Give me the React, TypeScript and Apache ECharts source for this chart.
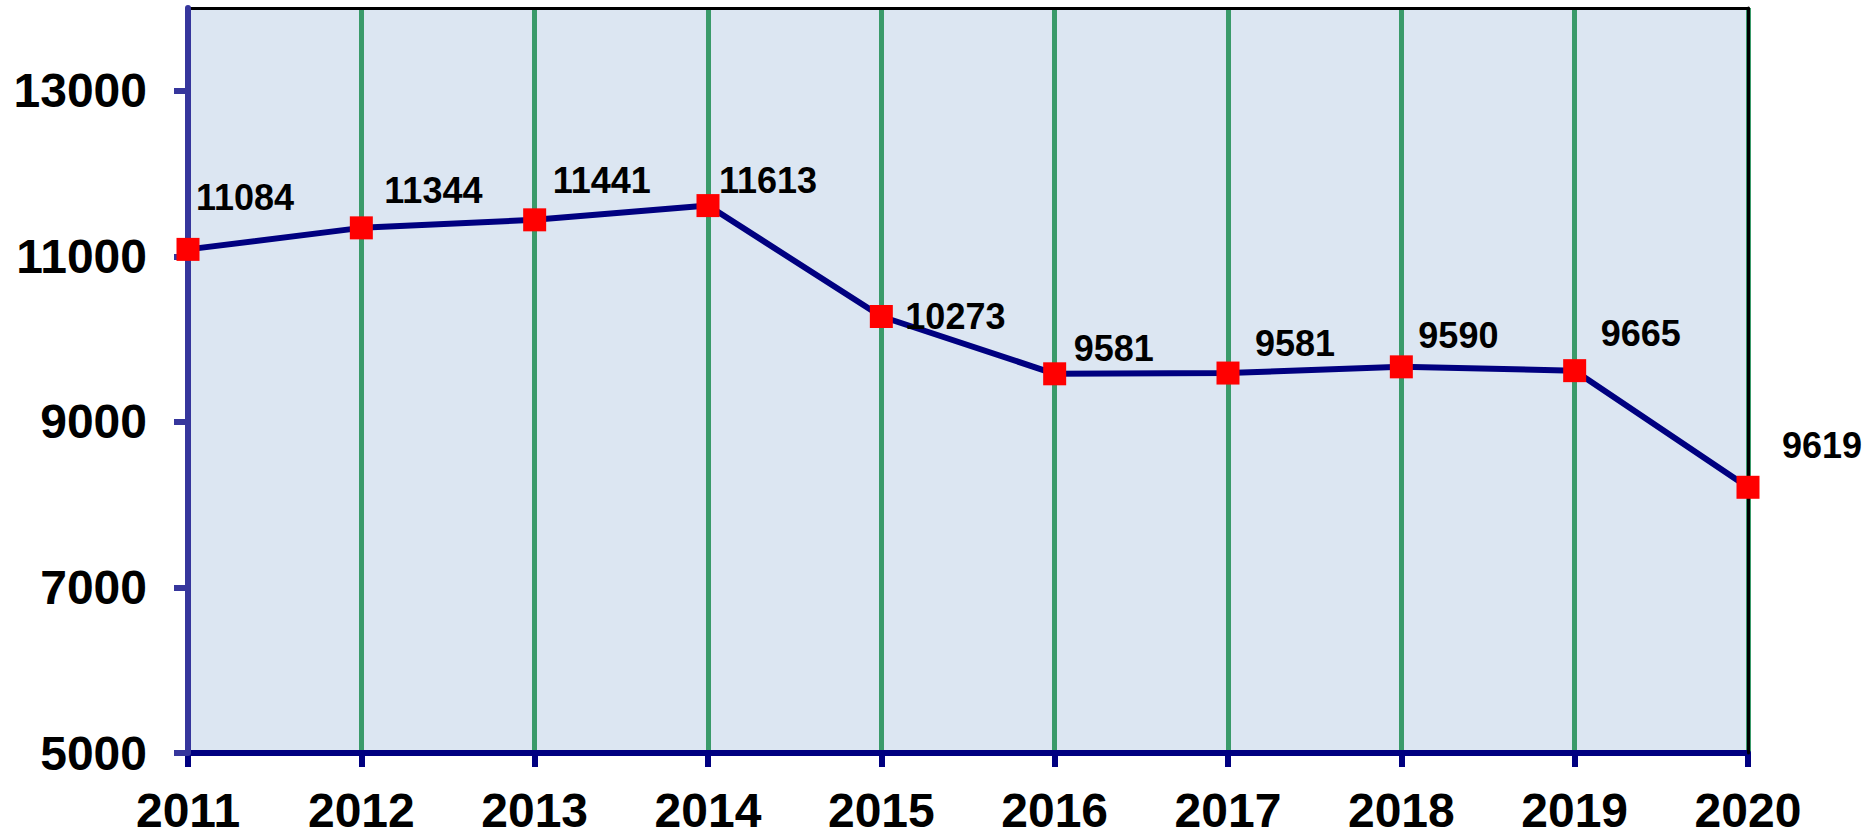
import React, { useEffect, useRef } from "react";
import * as echarts from "echarts";

const years = ["2011", "2012", "2013", "2014", "2015", "2016", "2017", "2018", "2019", "2020"];
const values = [11084, 11344, 11441, 11613, 10273, 9581, 9590, 9665, 9619, 8210];
const pointLabels = ["11084", "11344", "11441", "11613", "10273", "9581", "9581", "9590", "9665", "9619"];
const yTicks = [5000, 7000, 9000, 11000, 13000];
const yMin = 5000;
const yMax = 14000;

// label placement (left edge / vertical centre relative to each point)
const labelOffsets: number[][] = [
  [8, -52], [23, -37], [18, -39], [11, -25], [24, 0],
  [19, -25], [27, -30], [17, -31], [26, -37], [34, -42],
];

const FONT = 'Arial, "Liberation Sans", sans-serif';

export default function App() {
  const ref = useRef<HTMLDivElement>(null);

  useEffect(() => {
    if (!ref.current) return;
    const chart = echarts.init(ref.current, undefined, { renderer: "svg" });
    chart.setOption({
      animation: false,
      backgroundColor: "#ffffff",
      grid: {
        left: 188,
        right: 122,
        top: 8,
        bottom: 78,
        show: true,
        backgroundColor: "#dce6f2",
        borderWidth: 0,
      },
      xAxis: [
        {
          type: "category",
          data: years,
          boundaryGap: false,
          position: "bottom",
          axisLine: { show: true, lineStyle: { color: "#000080", width: 6 } },
          axisTick: { show: true, length: 14, lineStyle: { color: "#000080", width: 6 } },
          axisLabel: {
            margin: 39,
            fontSize: 48,
            lineHeight: 36,
            fontWeight: "bold",
            color: "#000",
            fontFamily: FONT,
          },
          splitLine: { show: true, lineStyle: { color: "#3a9a6a", width: 5 } },
        },
        {
          type: "category",
          data: years,
          boundaryGap: false,
          position: "top",
          axisLine: { show: true, lineStyle: { color: "#000000", width: 3 } },
          axisTick: { show: false },
          axisLabel: { show: false },
          splitLine: { show: false },
        },
      ],
      yAxis: [
        {
          type: "value",
          min: yMin,
          max: yMax,
          position: "left",
          z: 1,
          axisLine: { show: true, lineStyle: { color: "#36369c", width: 6 } },
          axisTick: {
            show: true,
            length: 14,
            customValues: yTicks,
            lineStyle: { color: "#36369c", width: 6 },
          },
          axisLabel: {
            customValues: yTicks,
            formatter: (v: number) => String(v),
            margin: 41,
            fontSize: 48,
            fontWeight: "bold",
            color: "#000",
            fontFamily: FONT,
          },
          splitLine: { show: false },
        },
        {
          type: "value",
          min: yMin,
          max: yMax,
          position: "right",
          z: 1,
          axisLine: { show: true, lineStyle: { color: "#000000", width: 3 } },
          axisTick: { show: false },
          axisLabel: { show: false },
          splitLine: { show: false },
        },
      ],
      series: [
        {
          type: "line",
          xAxisIndex: 0,
          yAxisIndex: 0,
          clip: false,
          z: 3,
          data: values.map((v, i) => ({ value: v, label: { offset: labelOffsets[i] } })),
          symbol: "rect",
          symbolSize: 23,
          itemStyle: { color: "#ff0000" },
          lineStyle: { color: "#000080", width: 6 },
          label: {
            show: true,
            position: "inside",
            align: "left",
            verticalAlign: "middle",
            formatter: (p: any) => pointLabels[p.dataIndex],
            fontSize: 36,
            fontWeight: "bold",
            color: "#000",
            fontFamily: FONT,
          },
        },
      ],
    });
    return () => chart.dispose();
  }, []);

  return (
    <div
      ref={ref}
      style={{ position: "fixed", left: 0, top: 0, width: 1870, height: 834, background: "#fff" }}
    />
  );
}
